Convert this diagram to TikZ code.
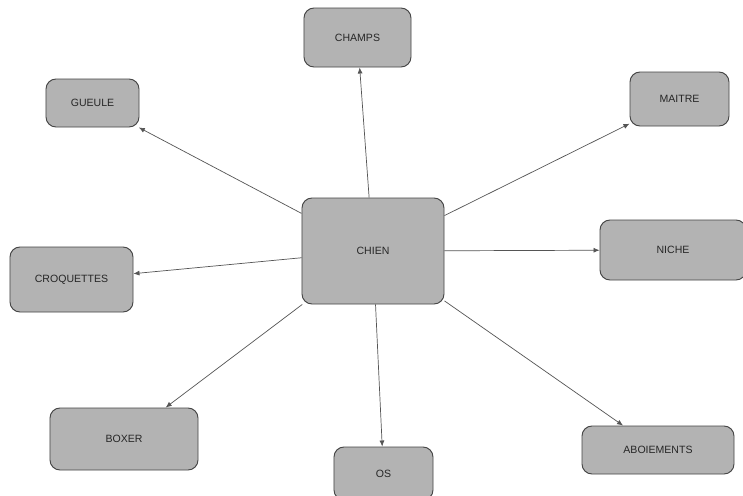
\documentclass[tikz,border=0pt]{standalone}
\usepackage{fontspec}
\setmainfont{Liberation Sans}
\usepackage{tikz}
\usetikzlibrary{arrows.meta}
\definecolor{boxfill}{HTML}{B3B3B3}
\definecolor{boxline}{HTML}{454545}
\definecolor{linkline}{HTML}{555555}
\tikzset{
  topic/.style={
    draw=boxline, rectangle, rounded corners=0.3cm,
    fill=boxfill, line width=0.8pt,
    font=\fontsize{9}{11}\selectfont, text=black!85, align=center
  },
  link/.style={-{Latex[length=1.8mm, width=1.5mm]}, draw=linkline, line width=0.6pt},
}

\begin{document}
\begin{tikzpicture}[x=0.03cm, y=-0.03cm]
        \clip (0,0) rectangle (743,496);
        \fill[white] (0,0) rectangle (743,496);
        \node[topic, minimum width=4.26cm, minimum height=3.18cm] (chien) at (373, 251) {CHIEN};
        \node[topic, minimum width=3.21cm, minimum height=1.77cm] (champs) at (357.5, 37.5) {CHAMPS};
        \node[topic, minimum width=2.79cm, minimum height=1.44cm] (gueule) at (92.5, 103) {GUEULE};
        \node[topic, minimum width=2.97cm, minimum height=1.62cm] (maitre) at (679.5, 99) {MAITRE};
        \node[topic, minimum width=4.38cm, minimum height=1.80cm] (niche) at (673, 250) {NICHE};
        \node[topic, minimum width=3.69cm, minimum height=1.95cm] (croquettes) at (71.5, 279.5) {CROQUETTES};
        \node[topic, minimum width=4.44cm, minimum height=1.86cm] (boxer) at (124, 439) {BOXER};
        \node[topic, minimum width=2.97cm, minimum height=1.59cm] (os) at (383.5, 473.5) {OS};
        \node[topic, minimum width=4.56cm, minimum height=1.44cm] (aboiements) at (658, 450) {ABOIEMENTS};
        \foreach \tgt in {champs, gueule, maitre, niche, croquettes, boxer, os, aboiements}{
          \draw[link] (chien) -- (\tgt);
        }
      \end{tikzpicture}
\end{document}
